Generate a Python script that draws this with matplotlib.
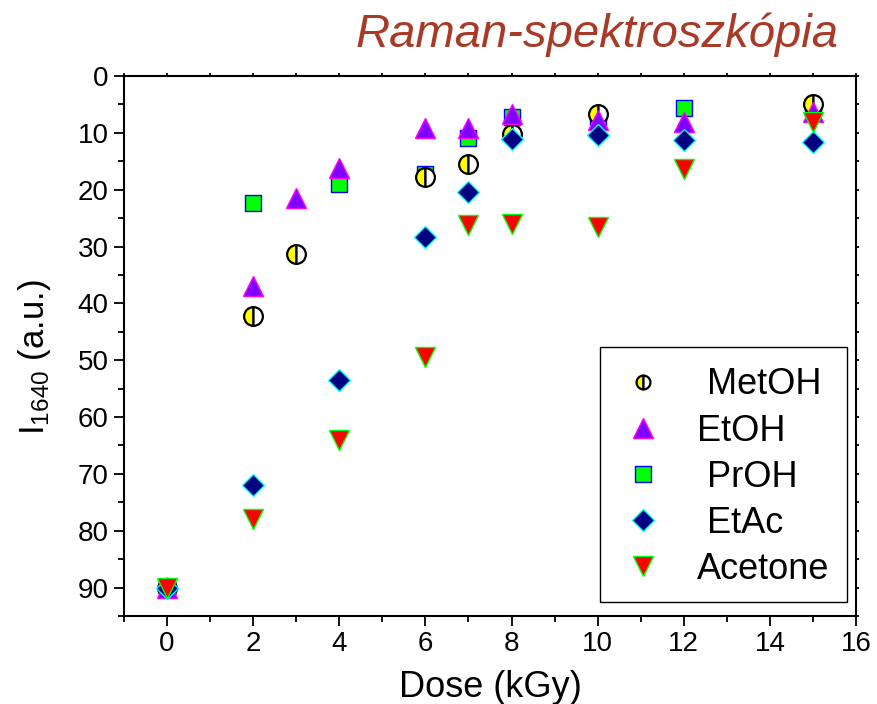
import matplotlib
matplotlib.use("Agg")
import matplotlib.pyplot as plt
from matplotlib.ticker import MultipleLocator
from matplotlib.lines import Line2D
from matplotlib.patches import Rectangle

plt.rcParams['font.family'] = ['Liberation Sans', 'DejaVu Sans']
plt.rcParams['mathtext.default'] = 'regular'

# Data (dose in kGy, I1640 in a.u.)
metoh_x = [0, 2, 3, 6, 7, 8, 10, 15]
metoh_y = [90, 42.2, 31.4, 17.8, 15.5, 10.2, 6.6, 4.9]

etoh_x = [0, 2, 3, 4, 6, 7, 8, 10, 12, 15]
etoh_y = [90, 36.9, 21.4, 16.2, 9.1, 9.1, 6.6, 7.8, 8.1, 6.4]

proh_x = [0, 2, 4, 6, 7, 8, 10, 12, 15]
proh_y = [90, 22.4, 19.0, 17.2, 10.9, 7.2, 7.2, 5.7, 5.6]

etac_x = [0, 2, 4, 6, 7, 8, 10, 12, 15]
etac_y = [90, 72.0, 53.5, 28.3, 20.4, 11.1, 10.3, 11.3, 11.6]

acet_x = [0, 2, 4, 6, 7, 8, 10, 12, 15]
acet_y = [90, 78.0, 64.1, 49.5, 26.2, 26.1, 26.5, 16.3, 8.1]

labels = [" MetOH", "EtOH", " PrOH", " EtAc", "Acetone"]
title_text = "Raman-spektroszkópia"

fig = plt.figure(figsize=(8.77, 7.04), dpi=100)
ax = fig.add_axes([124/877, 1-616/704, (856-124)/877, (616-76)/704])

met_style = dict(linestyle='none', marker='o', fillstyle='left',
                 markerfacecolor='#FFFF00', markerfacecoloralt='white',
                 markeredgecolor='black', markeredgewidth=1.6)
h_met, = ax.plot(metoh_x, metoh_y, ms=13.5, zorder=4, label=labels[0], **met_style)
h_et, = ax.plot(etoh_x, etoh_y, linestyle='none', marker='^', ms=15,
                markerfacecolor='#8000FF', markeredgecolor='#FF00FF', markeredgewidth=1.0,
                zorder=5, label=labels[1])
h_pr, = ax.plot(proh_x, proh_y, linestyle='none', marker='s', ms=11,
                markerfacecolor='#00FF00', markeredgecolor='#0000FF', markeredgewidth=1.0,
                zorder=3, label=labels[2])
h_ea, = ax.plot(etac_x, etac_y, linestyle='none', marker='D', ms=11.5,
                markerfacecolor='#000080', markeredgecolor='#00FFFF', markeredgewidth=1.0,
                zorder=6, label=labels[3])
h_ac, = ax.plot(acet_x, acet_y, linestyle='none', marker='v', ms=15,
                markerfacecolor='#FF0000', markeredgecolor='#00FF00', markeredgewidth=1.0,
                zorder=7, label=labels[4])

ax.set_xlim(-1, 16)
ax.set_ylim(95, 0)
ax.xaxis.set_major_locator(MultipleLocator(2))
ax.xaxis.set_minor_locator(MultipleLocator(1))
ax.yaxis.set_major_locator(MultipleLocator(10))
ax.yaxis.set_minor_locator(MultipleLocator(5))

for sp in ax.spines.values():
    sp.set_linewidth(1.5)

ax.tick_params(axis='both', which='major', direction='out', length=7, width=1.3,
               labelsize=20, pad=4)
ax.tick_params(axis='both', which='minor', direction='out', length=4.5, width=1.3)
ax.tick_params(top=True, right=True, which='both')
for t in ax.xaxis.get_major_ticks() + ax.xaxis.get_minor_ticks():
    t.tick2line.set_markersize(2)
for t in ax.yaxis.get_major_ticks() + ax.yaxis.get_minor_ticks():
    t.tick2line.set_markersize(2)

ax.set_xlabel("Dose (kGy)", fontsize=26, labelpad=9)
ax.set_ylabel("I$_{1640}$ (a.u.)", fontsize=25)
ax.yaxis.set_label_coords(-0.097, 0.48)

# legend frame drawn as a box, entries placed inside
ax.add_patch(Rectangle((0.650, 0.026), 0.338, 0.472, transform=ax.transAxes,
                       facecolor='white', edgecolor='black', linewidth=1.0, zorder=8))
h_met_leg = Line2D([], [], ms=10, **met_style)
leg = ax.legend(handles=[h_met_leg, h_et, h_pr, h_ea, h_ac], labels=labels,
                loc='center left', bbox_to_anchor=(0.679, 0.257), fontsize=26,
                frameon=False, handlelength=1.2, handletextpad=0.9,
                labelspacing=0.31, borderpad=0, borderaxespad=0)
leg.set_zorder(9)

fig.text(0.956, 0.950, title_text, fontsize=34, style='italic', color='#A83A28',
         ha='right', va='center')

fig.savefig("out.png", dpi=100)
